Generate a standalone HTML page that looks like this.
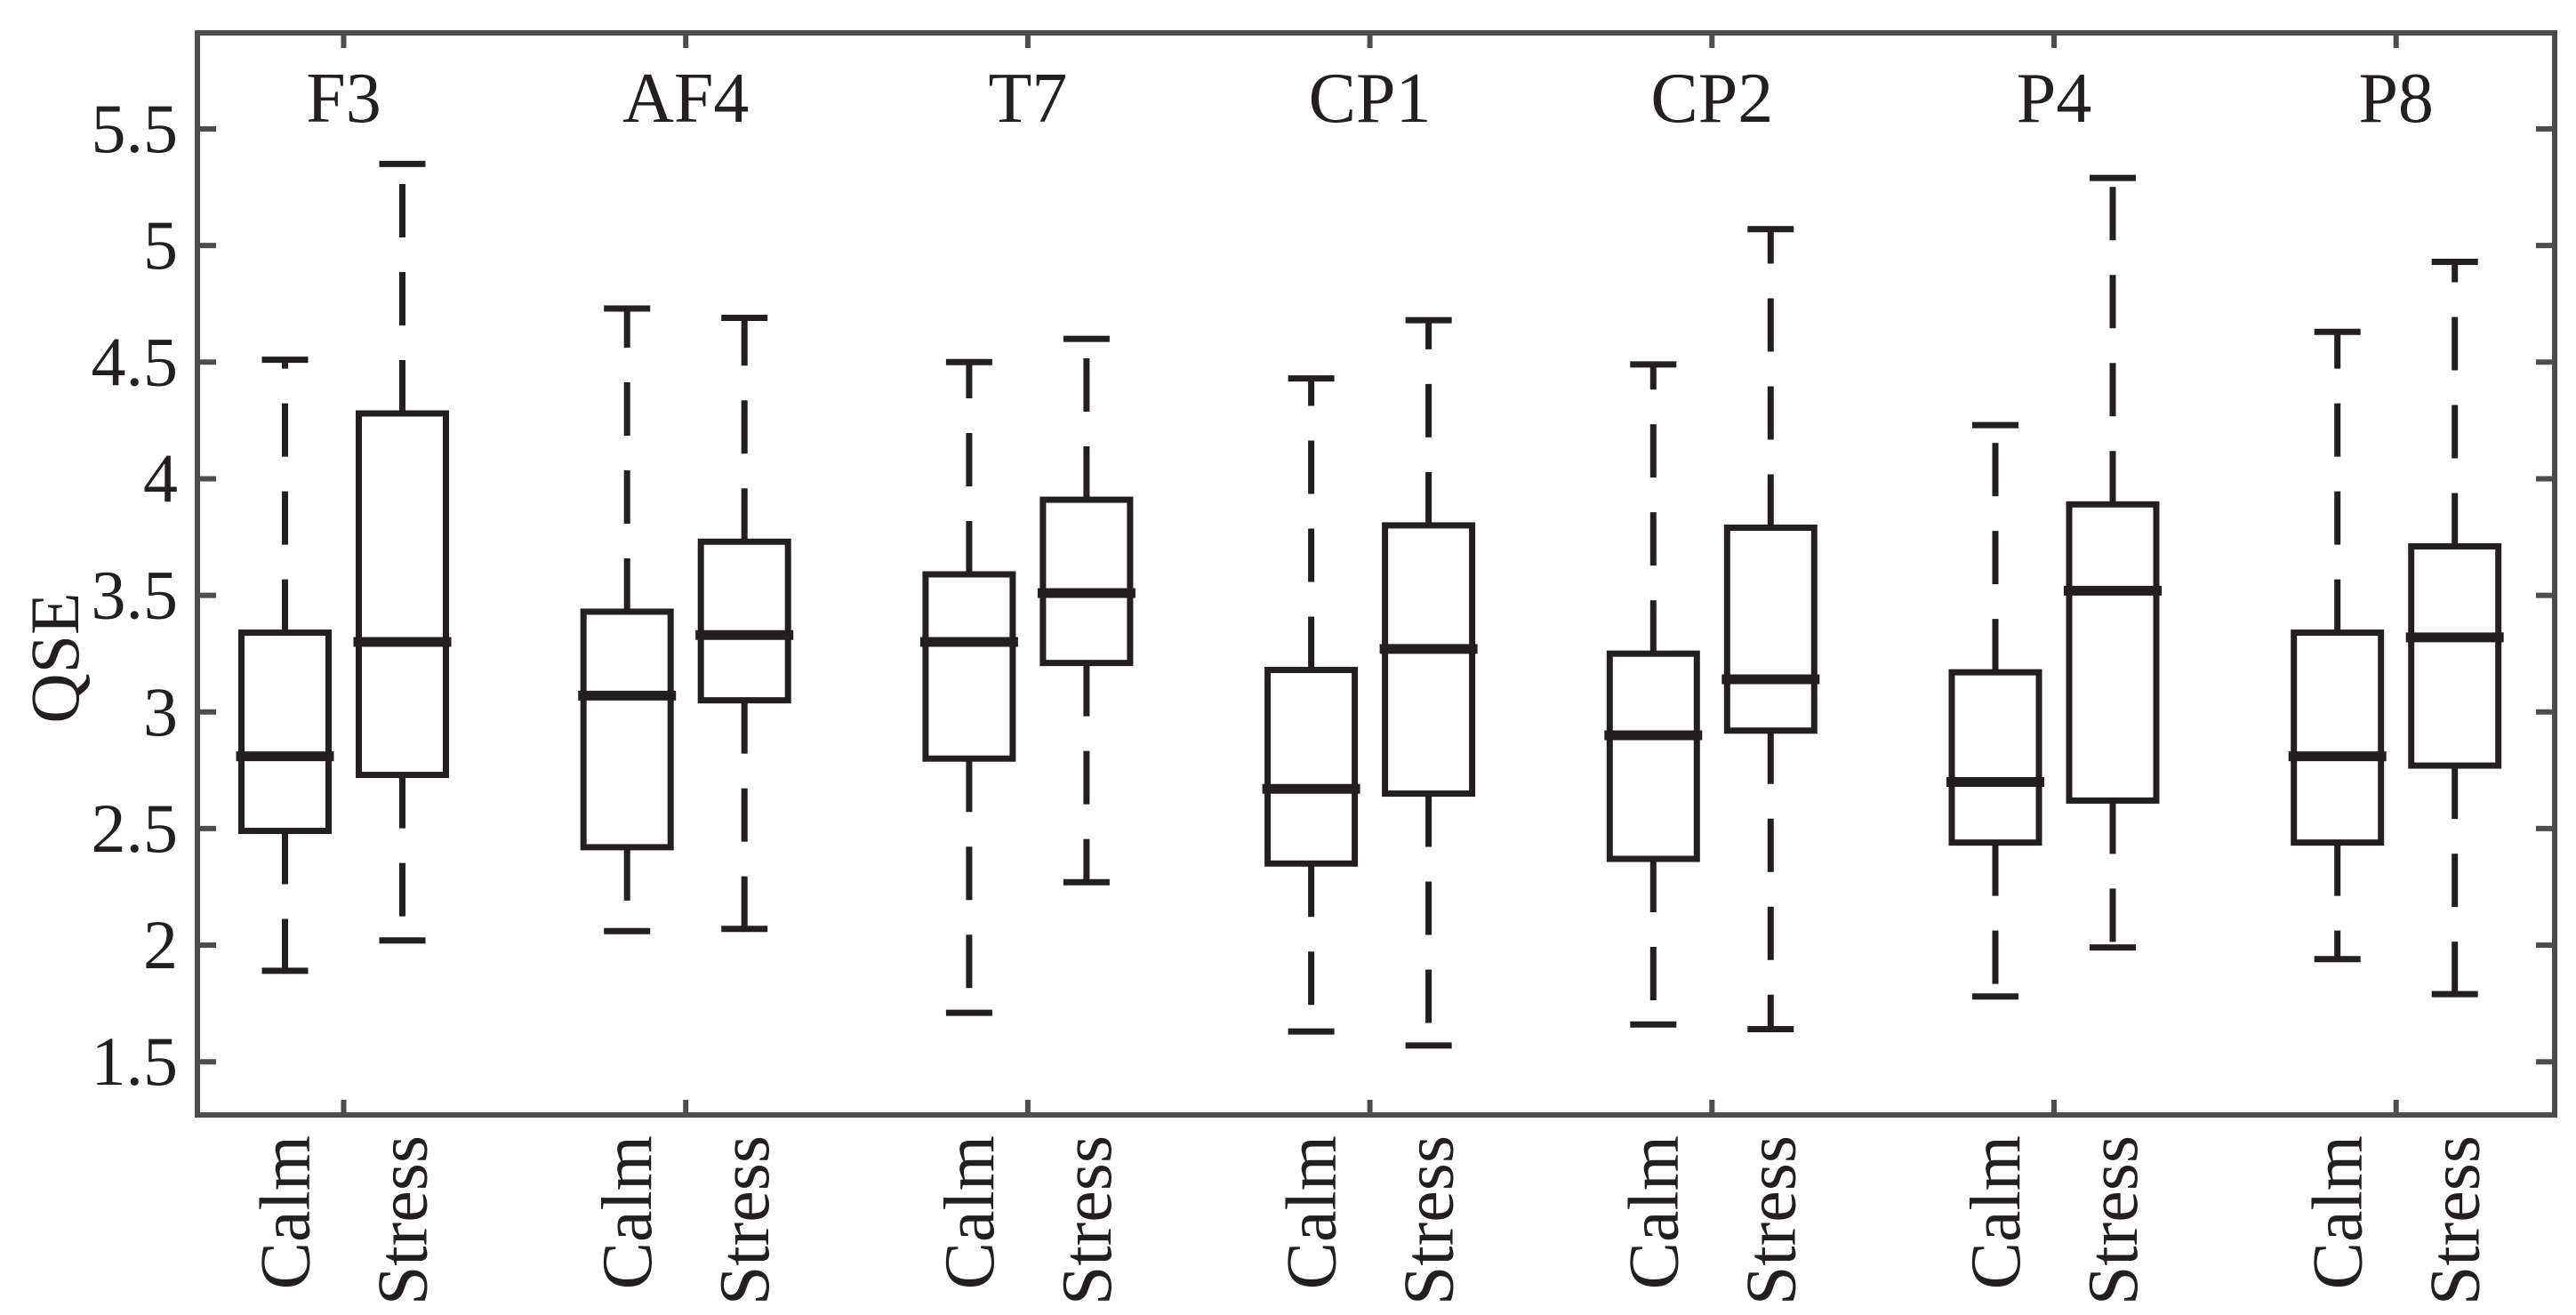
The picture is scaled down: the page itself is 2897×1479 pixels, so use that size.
<!DOCTYPE html>
<html><head><meta charset="utf-8"><style>
html,body{margin:0;padding:0;background:#fff;}
svg{display:block;}
svg text{font-family:"Liberation Serif","Times New Roman",Times,serif;fill:#231f20;}
</style></head><body>
<svg id="chart" width="2897" height="1479" viewBox="0 0 2897 1479" xmlns="http://www.w3.org/2000/svg" font-family="Liberation Serif, serif">
</svg>
<script>
const channels = ["F3","AF4","T7","CP1","CP2","P4","P8"];
const conditions = ["Calm","Stress"];
const calmUpper  = [4.51,4.73,4.50,4.43,4.49,4.23,4.63];
const calmQ3     = [3.34,3.43,3.59,3.18,3.25,3.17,3.34];
const calmMedian = [2.81,3.07,3.30,2.67,2.90,2.70,2.81];
const calmQ1     = [2.49,2.42,2.80,2.35,2.37,2.44,2.44];
const calmLower  = [1.89,2.06,1.71,1.63,1.66,1.78,1.94];
const stressUpper  = [5.35,4.69,4.60,4.68,5.07,5.29,4.93];
const stressQ3     = [4.28,3.73,3.91,3.80,3.79,3.89,3.71];
const stressMedian = [3.30,3.33,3.51,3.27,3.14,3.52,3.32];
const stressQ1     = [2.73,3.05,3.21,2.65,2.92,2.62,2.77];
const stressLower  = [2.02,2.07,2.27,1.57,1.64,1.99,1.79];
const yTicks = [1.5,2,2.5,3,3.5,4,4.5,5,5.5];
const yTickLabels = ["1.5","2","2.5","3","3.5","4","4.5","5","5.5"];

const NS="http://www.w3.org/2000/svg";
const svg=document.getElementById('chart');
const L=222,R=2873,T=37,B=1254;
const AX="#4d4d4f", INK="#231f20";
const FONT="Liberation Serif";
function y(v){return 145+(5.5-v)*262.3;}
function xCalm(i){return 1474.6+(i-3)*384.7;}
function xStress(i){return xCalm(i)+132;}
function xGroup(i){return xCalm(i)+66;}
function mk(tag,attrs,parent){const e=document.createElementNS(NS,tag);for(const k in attrs)e.setAttribute(k,attrs[k]);if(tag==='text')e.setAttribute('font-family',FONT);(parent||svg).appendChild(e);return e;}

const frame=mk('rect',{x:L,y:T,width:R-L,height:B-T,fill:'none',stroke:AX,'stroke-width':6});



yTicks.forEach((v,k)=>{
  const g=mk('g',{});
  
  
  mk('line',{x1:L,x2:L+21,y1:y(v),y2:y(v),stroke:AX,'stroke-width':6},g);
  mk('line',{x1:R-21,x2:R,y1:y(v),y2:y(v),stroke:AX,'stroke-width':6},g);
  const t=mk('text',{x:200,y:y(v)+26,'text-anchor':'end','font-size':78},g);
  t.textContent=yTickLabels[k];
});

const yt=mk('text',{x:0,y:0,'text-anchor':'middle','font-size':78,transform:'translate(88,740) rotate(-90)'});
yt.textContent='QSE';



function drawBox(x,up,q3,med,q1,lo,name){
  const g=mk('g',{});
  
  
  const dash={stroke:INK,'stroke-width':7,'stroke-dasharray':'60 39'};
  mk('line',Object.assign({x1:x,x2:x,y1:y(q3),y2:y(up)},dash),g);
  mk('line',Object.assign({x1:x,x2:x,y1:y(q1),y2:y(lo)},dash),g);
  mk('line',{x1:x-26,x2:x+26,y1:y(up),y2:y(up),stroke:INK,'stroke-width':7},g);
  mk('line',{x1:x-26,x2:x+26,y1:y(lo),y2:y(lo),stroke:INK,'stroke-width':7},g);
  mk('rect',{x:x-49,y:y(q3),width:98,height:y(q1)-y(q3),fill:'#fff',stroke:INK,'stroke-width':7},g);
  mk('line',{x1:x-55,x2:x+55,y1:y(med),y2:y(med),stroke:INK,'stroke-width':11},g);
}

channels.forEach((ch,i)=>{
  const gx=xGroup(i);
  const tk=mk('g',{});
  
  
  mk('line',{x1:gx,x2:gx,y1:T,y2:T+17,stroke:AX,'stroke-width':6},tk);
  mk('line',{x1:gx,x2:gx,y1:B-17,y2:B,stroke:AX,'stroke-width':6},tk);
  const lab=mk('text',{x:gx,y:137,'text-anchor':'middle','font-size':80});
  lab.textContent=ch;
  
  
  drawBox(xCalm(i),calmUpper[i],calmQ3[i],calmMedian[i],calmQ1[i],calmLower[i],'box-'+ch.toLowerCase()+'-calm');
  drawBox(xStress(i),stressUpper[i],stressQ3[i],stressMedian[i],stressQ1[i],stressLower[i],'box-'+ch.toLowerCase()+'-stress');
  [xCalm(i),xStress(i)].forEach((cx,k)=>{
    const t=mk('text',{x:0,y:0,'text-anchor':'end','font-size':80,transform:'translate('+(cx+27)+',1277) rotate(-90)'});
    t.textContent=conditions[k];
    
    
  });
});
</script>
</body></html>
